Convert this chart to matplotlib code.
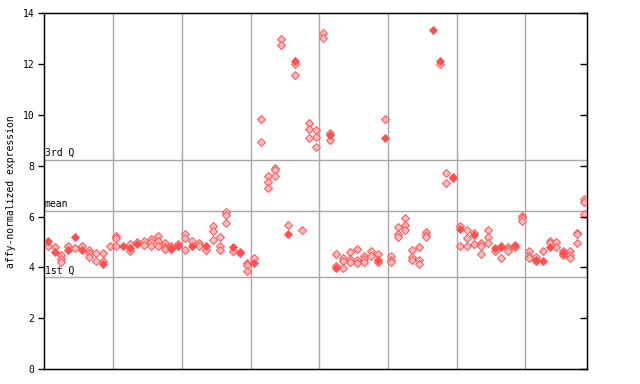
import matplotlib
matplotlib.use("Agg")
import matplotlib.pyplot as plt

# expression values per sample (replicates stacked in one column)
values = [
    [5.05, 4.86], [4.8, 4.6], [4.47, 4.34, 4.22], [4.84, 4.7], [5.2, 4.75],
    [4.84, 4.7], [4.68, 4.55, 4.42], [4.55, 4.26], [4.55, 4.25, 4.15], [4.86],
    [5.25, 5.15, 4.86], [4.85], [4.93, 4.76, 4.65], [5.0, 4.93], [5.05, 4.9],
    [5.1, 4.98, 4.85], [5.25, 5.05, 4.85], [4.94, 4.81, 4.73], [4.86, 4.78, 4.73], [4.93, 4.86],
    [5.3, 5.14, 4.7], [5.03, 4.84], [4.94, 4.84], [4.84, 4.7], [5.62, 5.43, 5.07],
    [5.18, 4.84, 4.7], [6.17, 6.06, 5.73], [4.81, 4.64], [4.6, 4.55], [4.18, 4.09, 3.85],
    [4.35, 4.16], [9.82, 8.95], [7.59, 7.35, 7.14], [7.93, 7.85, 7.59], [13.0, 12.77],
    [5.65, 5.32], [12.11, 12.02, 11.59], [5.47], [9.7, 9.46, 9.11], [9.4, 9.12, 8.72],
    [13.24, 13.04], [9.29, 9.2, 9.03], [4.51, 4.06, 3.98], [4.38, 4.26, 3.96], [4.59, 4.33, 4.22],
    [4.71, 4.29, 4.18], [4.44, 4.33, 4.2], [4.64, 4.44], [4.51, 4.31, 4.2], [9.82, 9.1],
    [4.44, 4.31, 4.2], [5.57, 5.3, 5.2], [5.93, 5.66, 5.49], [4.68, 4.39, 4.31], [4.81, 4.31, 4.12],
    [5.38, 5.27, 5.18], [13.33], [12.12, 12.02], [7.7, 7.34], [7.54, 7.5],
    [5.62, 5.53, 4.86], [5.49, 5.14, 4.86], [5.36, 5.27, 4.92], [4.97, 4.86, 4.52], [5.49, 5.18, 4.97],
    [4.75, 4.65], [4.84, 4.79, 4.35], [4.81, 4.73, 4.65], [4.88, 4.82], [6.02, 5.93, 5.83],
    [4.64, 4.44, 4.35], [4.39, 4.29, 4.24], [4.65, 4.26], [5.03, 4.94, 4.81], [5.0, 4.81],
    [4.63, 4.55, 4.47], [4.63, 4.47, 4.35], [5.36, 5.3, 4.96], [6.68, 6.58, 6.11],
]
# which replicate of each sample is drawn filled (-1: none)
filled = [
    0, 1, -1, 1, 0, 1, -1, -1, 2, -1,
    -1, 0, 1, 1, -1, -1, -1, -1, 1, 1,
    -1, 1, -1, 0, -1, -1, -1, 0, 1, -1,
    1, -1, -1, -1, -1, 1, 0, -1, -1, -1,
    -1, 1, 2, -1, -1, -1, -1, -1, 1, 1,
    -1, -1, -1, -1, -1, -1, 0, 0, -1, 0,
    1, -1, 1, -1, -1, 0, 1, -1, 0, -1,
    -1, 1, 1, 2, -1, 1, -1, -1, -1,
]
group_edges = [10, 20, 30, 40, 50, 60, 70]
q1, mean, q3 = 3.61, 6.22, 8.22

fig = plt.figure(figsize=(6.4, 3.84), dpi=100)
ax = fig.add_axes([0.0692, 0.039, 0.8485, 0.9264])

red = "#ff5050"
for i, col in enumerate(values):
    for j, v in enumerate(col):
        if filled[i] == j:
            ax.plot(i + 0.5, v, "D", ms=3.8, mfc=red, mec=red, mew=0.6, zorder=4)
        else:
            ax.plot(i + 0.5, v, "D", ms=3.6, mfc="#ffbcbc", mec=red, mew=0.7, zorder=3)

for e in group_edges:
    ax.axvline(e, color="#a8a8a8", lw=1.0, zorder=1)
for v, name in [(q1, "1st Q"), (mean, "mean"), (q3, "3rd Q")]:
    ax.axhline(v, color="#a8a8a8", lw=1.0, zorder=1)
    ax.text(0.05, v + 0.08, name, family="DejaVu Sans Mono", fontsize=7, va="bottom", ha="left")

ax.set_xlim(0, len(values))
ax.set_ylim(0, 14)
ax.set_yticks(range(0, 15, 2))
ax.set_xticks([])
ax.tick_params(axis="y", direction="out", length=4, width=1, labelsize=7, pad=3)
for t in ax.get_yticklabels():
    t.set_family("DejaVu Sans Mono")
ax.set_ylabel("affy-normalized expression", family="DejaVu Sans Mono", fontsize=7, labelpad=5)
for s in ax.spines.values():
    s.set_linewidth(1.0)

# right ticks point inward
ax2 = ax.twinx()
ax2.set_ylim(0, 14)
ax2.set_yticks(range(0, 15, 2))
ax2.tick_params(axis="y", direction="in", length=5, width=1, labelright=False)

fig.savefig("out.png", dpi=100)
